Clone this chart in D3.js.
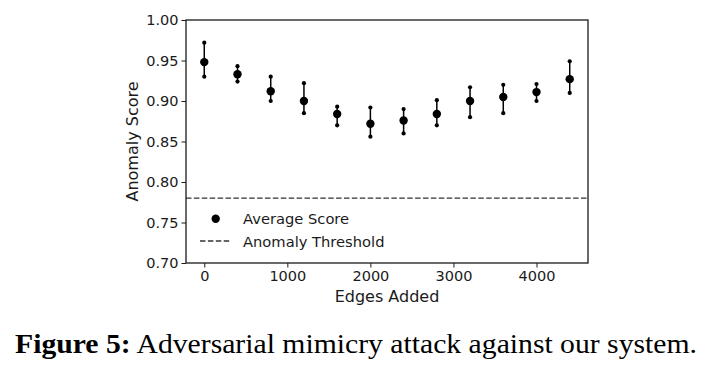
<!DOCTYPE html>
<html><head><meta charset="utf-8">
<script src="https://cdn.jsdelivr.net/npm/d3@7"></script>
<style>body{margin:0;background:#fff}svg{display:block}</style>
</head><body>
<script>
const edgesAdded = [0,400,800,1200,1600,2000,2400,2800,3200,3600,4000,4400];
const avgScore   = [0.948,0.933,0.912,0.900,0.884,0.872,0.876,0.884,0.900,0.905,0.911,0.927];
const errUpper   = [0.972,0.943,0.930,0.922,0.893,0.892,0.890,0.901,0.917,0.920,0.921,0.949];
const errLower   = [0.930,0.924,0.900,0.885,0.870,0.856,0.860,0.870,0.880,0.885,0.900,0.910];
const threshold = 0.78;
const xTicks = [0,1000,2000,3000,4000];
const yTicks = [0.70,0.75,0.80,0.85,0.90,0.95,1.00];

const W=709,H=369;
const m={l:186,r:588,t:20,b:263};
const svg=d3.select("body").append("svg").attr("width",W).attr("height",H);
const x=d3.scaleLinear().domain([-220,4620]).range([m.l,m.r]);
const y=d3.scaleLinear().domain([0.70,1.00]).range([m.b,m.t]);
const font="DejaVu Sans, sans-serif";
const ink="#1a1a1a";

// threshold
svg.append("line").attr("x1",m.l).attr("x2",m.r).attr("y1",y(threshold)).attr("y2",y(threshold))
  .attr("stroke","#333").attr("stroke-width",1.3).attr("stroke-dasharray","5.5,2.4");

// error bars
const g=svg.append("g");
edgesAdded.forEach((e,i)=>{
  g.append("line").attr("x1",x(e)).attr("x2",x(e)).attr("y1",y(errLower[i])).attr("y2",y(errUpper[i]))
    .attr("stroke","#000").attr("stroke-width",1.5);
  g.append("circle").attr("cx",x(e)).attr("cy",y(errLower[i])).attr("r",2.1).attr("fill","#000");
  g.append("circle").attr("cx",x(e)).attr("cy",y(errUpper[i])).attr("r",2.1).attr("fill","#000");
  g.append("circle").attr("cx",x(e)).attr("cy",y(avgScore[i])).attr("r",4.2).attr("fill","#000");
});

// axes
const xa=svg.append("g").attr("transform",`translate(0,${m.b})`)
  .call(d3.axisBottom(x).tickValues(xTicks).tickSize(4.5).tickPadding(3).tickFormat(d3.format("d")));
const ya=svg.append("g").attr("transform",`translate(${m.l},0)`)
  .call(d3.axisLeft(y).tickValues(yTicks).tickSize(4.5).tickPadding(3).tickFormat(d3.format(".2f")));
[xa,ya].forEach(a=>{
  a.select(".domain").remove();
  a.selectAll("line").attr("stroke",ink).attr("stroke-width",1);
  a.selectAll("text").attr("font-family",font).attr("font-size",14.5).attr("fill",ink);
});
// frame
svg.append("rect").attr("x",m.l).attr("y",m.t).attr("width",m.r-m.l).attr("height",m.b-m.t)
  .attr("fill","none").attr("stroke",ink).attr("stroke-width",1.3);

// labels
svg.append("text").attr("x",(m.l+m.r)/2).attr("y",302).attr("text-anchor","middle")
  .attr("font-family",font).attr("font-size",16).attr("fill",ink).text("Edges Added");
svg.append("text").attr("transform",`translate(138,${(m.t+m.b)/2}) rotate(-90)`).attr("text-anchor","middle")
  .attr("font-family",font).attr("font-size",16).attr("fill",ink).text("Anomaly Score");

// legend
svg.append("circle").attr("cx",215.7).attr("cy",218.7).attr("r",4.2).attr("fill","#000");
svg.append("text").attr("x",243).attr("y",224).attr("font-family",font).attr("font-size",14.7).attr("fill",ink).text("Average Score");
svg.append("line").attr("x1",200).attr("x2",230).attr("y1",241).attr("y2",241)
  .attr("stroke","#333").attr("stroke-width",1.3).attr("stroke-dasharray","5.5,2.4");
svg.append("text").attr("x",243).attr("y",246.5).attr("font-family",font).attr("font-size",14.7).attr("fill",ink).text("Anomaly Threshold");

// caption
const cap=svg.append("text").attr("x",15).attr("y",352.5).attr("font-family","Liberation Serif, Times New Roman, serif")
  .attr("font-size",26.5).attr("fill","#000")
  .attr("textLength",682).attr("lengthAdjust","spacingAndGlyphs");
cap.append("tspan").attr("font-weight","bold").text("Figure 5:");
cap.append("tspan").text(" Adversarial mimicry attack against our system.");
</script>
</body></html>
